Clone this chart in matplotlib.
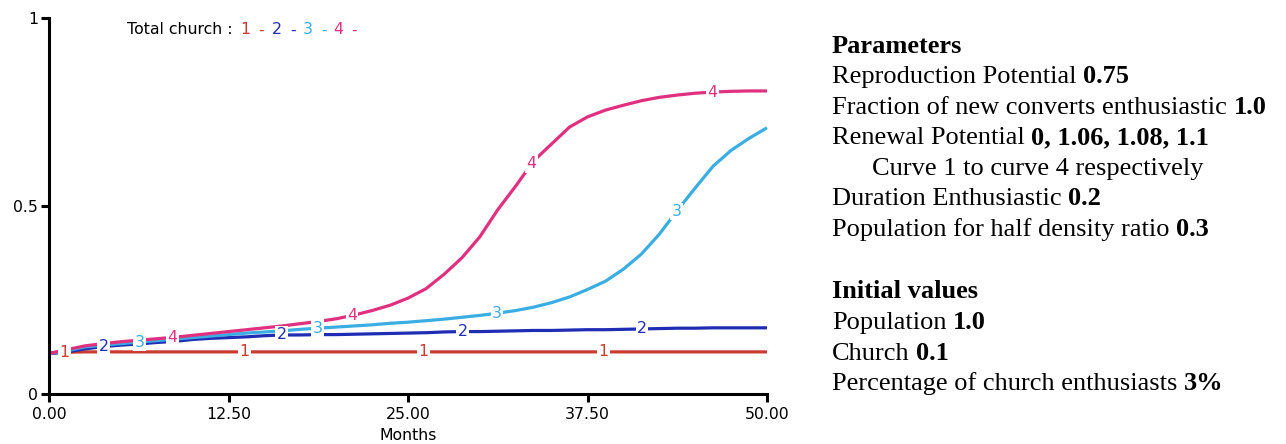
import numpy as np
import matplotlib
matplotlib.use("Agg")
import matplotlib.pyplot as plt

# ---------------- data ----------------
months = np.arange(0, 50.0001, 1.25)

church_1 = [0.108, 0.111, 0.112, 0.112, 0.112, 0.112, 0.112, 0.112, 0.112, 0.112,
            0.112, 0.112, 0.112, 0.112, 0.112, 0.112, 0.112, 0.112, 0.112, 0.112,
            0.112, 0.112, 0.112, 0.112, 0.112, 0.112, 0.112, 0.112, 0.112, 0.112,
            0.112, 0.112, 0.112, 0.112, 0.112, 0.112, 0.112, 0.112, 0.112, 0.112,
            0.112]

church_2 = [0.108, 0.112, 0.120, 0.126, 0.130, 0.133, 0.137, 0.140, 0.145, 0.148,
            0.150, 0.152, 0.155, 0.157, 0.157, 0.158, 0.158, 0.159, 0.160, 0.161,
            0.162, 0.163, 0.165, 0.166, 0.166, 0.167, 0.168, 0.169, 0.169, 0.170,
            0.171, 0.171, 0.172, 0.173, 0.174, 0.175, 0.175, 0.176, 0.176, 0.176,
            0.176]

church_3 = [0.108, 0.115, 0.125, 0.130, 0.134, 0.138, 0.142, 0.146, 0.150, 0.154,
            0.158, 0.162, 0.165, 0.168, 0.172, 0.175, 0.178, 0.181, 0.184, 0.188,
            0.191, 0.195, 0.199, 0.204, 0.209, 0.215, 0.222, 0.231, 0.243, 0.258,
            0.278, 0.300, 0.332, 0.372, 0.425, 0.488, 0.548, 0.606, 0.648, 0.680,
            0.708]

church_4 = [0.108, 0.118, 0.128, 0.134, 0.139, 0.143, 0.147, 0.151, 0.156, 0.161,
            0.166, 0.171, 0.176, 0.181, 0.187, 0.193, 0.200, 0.210, 0.222, 0.236,
            0.255, 0.280, 0.318, 0.362, 0.418, 0.490, 0.553, 0.620, 0.665, 0.710,
            0.737, 0.755, 0.768, 0.780, 0.789, 0.795, 0.800, 0.803, 0.805, 0.806,
            0.806]

curve_names = ["1", "2", "3", "4"]
curve_colors = ["#cc3b30", "#1f2db5", "#3aaee2", "#e0307f"]
series = [church_1, church_2, church_3, church_4]

# month positions of the number markers drawn on each curve
label_months = [
    [1.1, 13.6, 26.1, 38.6],
    [3.8, 16.2, 28.8, 41.3],
    [6.3, 18.7, 31.2, 43.7],
    [8.6, 21.1, 33.6, 46.2],
]

x_ticks = [0, 12.5, 25, 37.5, 50]
x_tick_labels = ["0.00", "12.50", "25.00", "37.50", "50.00"]
y_ticks = [0, 0.5, 1]
y_tick_labels = ["0", "0.5", "1"]

legend_title = "Total church :"

param_regular = ["Parameters", "Reproduction Potential",
                 "Fraction of new converts enthusiastic", "Renewal Potential",
                 "Curve 1 to curve 4 respectively", "Duration Enthusiastic",
                 "Population for half density ratio", "Initial values",
                 "Population", "Church", "Percentage of church enthusiasts"]
param_bold_values = ["", "0.75", "1.0", "0, 1.06, 1.08, 1.1", "", "0.2", "0.3",
                     "", "1.0", "0.1", "3%"]
param_is_heading = [True, False, False, False, False, False, False, True,
                    False, False, False]
param_indent = [0, 0, 0, 0, 1, 0, 0, 0, 0, 0, 0]
param_baselines = [53, 83, 114, 144, 175, 205, 236, 298, 329, 360, 390]

# ---------------- figure ----------------
W, H = 1286, 444
fig = plt.figure(figsize=(W / 100, H / 100), dpi=100)
fig.patch.set_facecolor("white")

ax_l, ax_r, ax_t, ax_b = 49, 767, 18, 394
ax = fig.add_axes([ax_l / W, 1 - ax_b / H, (ax_r - ax_l) / W, (ax_b - ax_t) / H])

chart_font = "DejaVu Sans"
fs = 11.3

for vals, c in zip(series, curve_colors):
    ax.plot(months, vals, color=c, lw=2.3, solid_capstyle="butt", zorder=2,
            clip_on=False)

for vals, c, name, lm in zip(series, curve_colors, curve_names, label_months):
    for m in lm:
        yv = np.interp(m, months, vals)
        ax.text(m, yv, name, color=c, fontsize=fs, family=chart_font,
                ha="center", va="center", zorder=4,
                bbox=dict(boxstyle="square,pad=0.08", fc="white", ec="none"))

ax.set_xlim(0, 50)
ax.set_ylim(0, 1)
for s in ["top", "right"]:
    ax.spines[s].set_visible(False)
for s in ["left", "bottom"]:
    ax.spines[s].set_linewidth(2.2)
    ax.spines[s].set_color("black")

ax.set_xticks(x_ticks)
ax.set_xticklabels(x_tick_labels, family=chart_font, fontsize=fs)
ax.set_yticks(y_ticks)
ax.set_yticklabels(y_tick_labels, family=chart_font, fontsize=fs)
ax.tick_params(axis="both", direction="out", length=6, width=2.2, color="black")
ax.tick_params(axis="x", pad=3)
ax.tick_params(axis="y", pad=2)
ax.set_xlabel("Months", family=chart_font, fontsize=fs, labelpad=5)


def px(x, y):
    return x / W, 1 - y / H


# legend "Total church : 1 - 2 - 3 - 4 -"
fig.text(*px(127, 30), legend_title, family=chart_font, fontsize=fs,
         va="center", ha="left")
leg_x = [245, 277, 308, 338]
for name, c, lx in zip(curve_names, curve_colors, leg_x):
    fig.text(*px(lx, 30), name, family=chart_font, fontsize=fs, color=c,
             va="center", ha="center")
    fig.text(*px(lx + 16, 30), "-", family=chart_font, fontsize=fs, color=c,
             va="center", ha="center")

# parameter block
serif = "Liberation Serif"
tfs = 19
pairs = []
for reg, bval, head, ind, base in zip(param_regular, param_bold_values,
                                      param_is_heading, param_indent,
                                      param_baselines):
    x0 = 832 + (40 if ind else 0)
    t = fig.text(*px(x0, base), reg, family=serif, fontsize=tfs,
                 fontweight="bold" if head else "normal",
                 va="baseline", ha="left")
    if bval:
        b = fig.text(*px(x0, base), bval, family=serif, fontsize=tfs,
                     fontweight="bold", va="baseline", ha="left")
        pairs.append((t, b, base))

fig.canvas.draw()
renderer = fig.canvas.get_renderer()
space = tfs * 100 / 72 * 0.25
for t, b, base in pairs:
    bb = t.get_window_extent(renderer)
    b.set_position(((bb.x1 + space) / W, 1 - base / H))

fig.savefig("out.png", dpi=100, facecolor="white")
